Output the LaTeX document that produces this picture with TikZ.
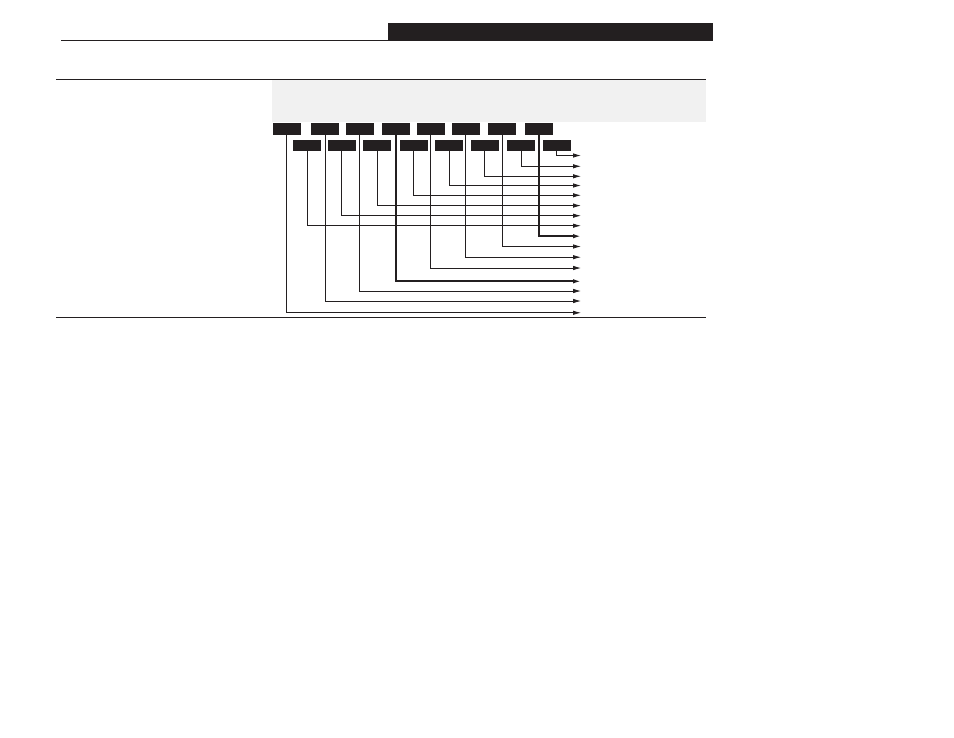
\documentclass[tikz,border=0pt]{standalone}
\usepackage{tikz}
\usetikzlibrary{positioning,arrows.meta}
\definecolor{ink}{HTML}{231F20}
\definecolor{band}{HTML}{F1F1F1}
\tikzset{
  >={Latex[length=8pt,width=4.5pt]}, x=1pt, y=-1pt,
  every node/.style={inner sep=0pt, outer sep=0pt},
  cell/.style={fill=ink, minimum width=28pt, minimum height=12pt},
  subcell/.style={cell, minimum height=11pt},
  rule/.style={draw=ink, line width=1pt},
  wire/.style={->, draw=ink, line width=0.8pt},
  heavy/.style={wire, line width=1.7pt}
  }

\begin{document}
\begin{tikzpicture}
    \useasboundingbox (0,0) rectangle (954,737);

    % page heading and rules
    \node [fill=ink, minimum width=325pt, minimum height=18pt] (head) at (550.5,31.5) {};
    \draw [rule] (61,40.2) -- (head.south west |- 0,40.2);
    \draw [rule] (56,79) -- (706,79);
    \fill [band] (272,80) rectangle (706,122);
    \draw [rule] (56,317.3) -- (706,317.3);

    % upper row of fields
    \node [cell] (t1) at (286.5,129) {};
    \node [cell] (t2) at (325,129) {};
    \node [cell] (t3) at (359.5,129) {};
    \node [cell] (t4) at (396,129) {};
    \node [cell] (t5) at (430.5,129) {};
    \node [cell] (t6) at (465.5,129) {};
    \node [cell] (t7) at (502.3,129) {};
    \node [cell] (t8) at (538.7,129) {};
    % lower row of fields
    \node [subcell] (b1) at (307.2,145.4) {};
    \node [subcell] (b2) at (341.5,145.4) {};
    \node [subcell] (b3) at (377,145.4) {};
    \node [subcell] (b4) at (413.5,145.4) {};
    \node [subcell] (b5) at (449,145.4) {};
    \node [subcell] (b6) at (484.5,145.4) {};
    \node [subcell] (b7) at (521,145.4) {};
    \node [subcell] (b8) at (556.7,145.4) {};

    % arrow ends on the right
    \coordinate (o1) at (581,155.5);
    \coordinate (o2) at (581,166.3);
    \coordinate (o3) at (581,176.3);
    \coordinate (o4) at (581,185.5);
    \coordinate (o5) at (581,195.3);
    \coordinate (o6) at (581,205.6);
    \coordinate (o7) at (581,215.7);
    \coordinate (o8) at (581,225.7);
    \coordinate (o9) at (581,236.2);
    \coordinate (o10) at (581,246.5);
    \coordinate (o11) at (581,257.2);
    \coordinate (o12) at (581,268);
    \coordinate (o13) at (581,281.3);
    \coordinate (o14) at (581,291);
    \coordinate (o15) at (581,301);
    \coordinate (o16) at (581,312.8);

    \draw [wire] (b8.south) |- (o1);
    \draw [wire] (b7.south) |- (o2);
    \draw [wire] (b6.south) |- (o3);
    \draw [wire] (b5.south) |- (o4);
    \draw [wire] (b4.south) |- (o5);
    \draw [wire] (b3.south) |- (o6);
    \draw [wire] (b2.south) |- (o7);
    \draw [wire] (b1.south) |- (o8);
    \draw [heavy] (t8.south) |- (o9);
    \draw [wire] (t7.south) |- (o10);
    \draw [wire] (t6.south) |- (o11);
    \draw [wire] (t5.south) |- (o12);
    \draw [heavy] (t4.south) |- (o13);
    \draw [wire] (t3.south) |- (o14);
    \draw [wire] (t2.south) |- (o15);
    \draw [wire] (t1.south) |- (o16);
\end{tikzpicture}
\end{document}
